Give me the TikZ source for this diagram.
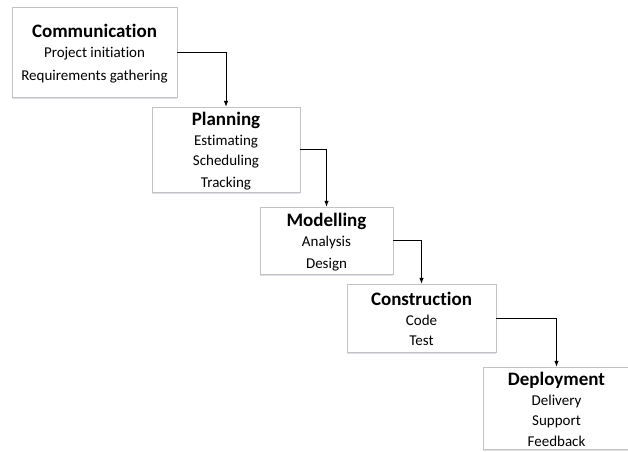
\documentclass[tikz,border=0pt]{standalone}
\usepackage{fontspec}
\setmainfont[Ligatures=NoCommon]{Carlito}
\usetikzlibrary{arrows.meta, shadows}

\definecolor{phaseline}{RGB}{195,195,195}
\definecolor{phaseshadow}{RGB}{220,224,232}
\newcommand\phasetitle[1]{{\fontsize{19}{22}\selectfont\bfseries\rule{0pt}{16pt}#1}}

\begin{document}
\begin{tikzpicture}[
  x=1pt, y=-1pt, >={Latex[length=6pt,width=4.5pt]},
  font=\fontsize{15}{20}\selectfont,
  phase/.style={rectangle, draw=phaseline, fill=white, align=center, inner sep=2pt,
    drop shadow={shadow xshift=0pt, shadow yshift=-2pt, fill=phaseshadow, opacity=1}},
  flow/.style={->, line width=0.8pt}
]
  \useasboundingbox (0,0) rectangle (628,451);
  \clip (0,0) rectangle (628,451);
  \node[phase, minimum width=165pt, minimum height=90pt] (comm) at (94.5,52) {\phasetitle{Communication}\\Project initiation\\[3pt]Requirements gathering};
  \node[phase, minimum width=148pt, minimum height=85pt] (plan) at (226,149.5) {\phasetitle{Planning}\\Estimating\\Scheduling\\[2pt]Tracking};
  \node[phase, minimum width=133pt, minimum height=67pt] (model) at (326.5,240.5) {\phasetitle{Modelling}\\Analysis\\[2pt]Design};
  \node[phase, minimum width=149pt, minimum height=68pt] (cons) at (421.5,318) {\phasetitle{Construction}\\Code\\Test};
  \node[phase, minimum width=147pt, minimum height=82pt] (depl) at (556.5,408) {\phasetitle{Deployment}\\Delivery\\Support\\[1pt]Feedback};
  \draw[flow] (comm.east) -| (plan.north);
  \draw[flow] (plan.east) -| (model.north);
  \draw[flow] (model.east) -| (cons.north);
  \draw[flow] (cons.east) -| (depl.north);
\end{tikzpicture}
\end{document}
